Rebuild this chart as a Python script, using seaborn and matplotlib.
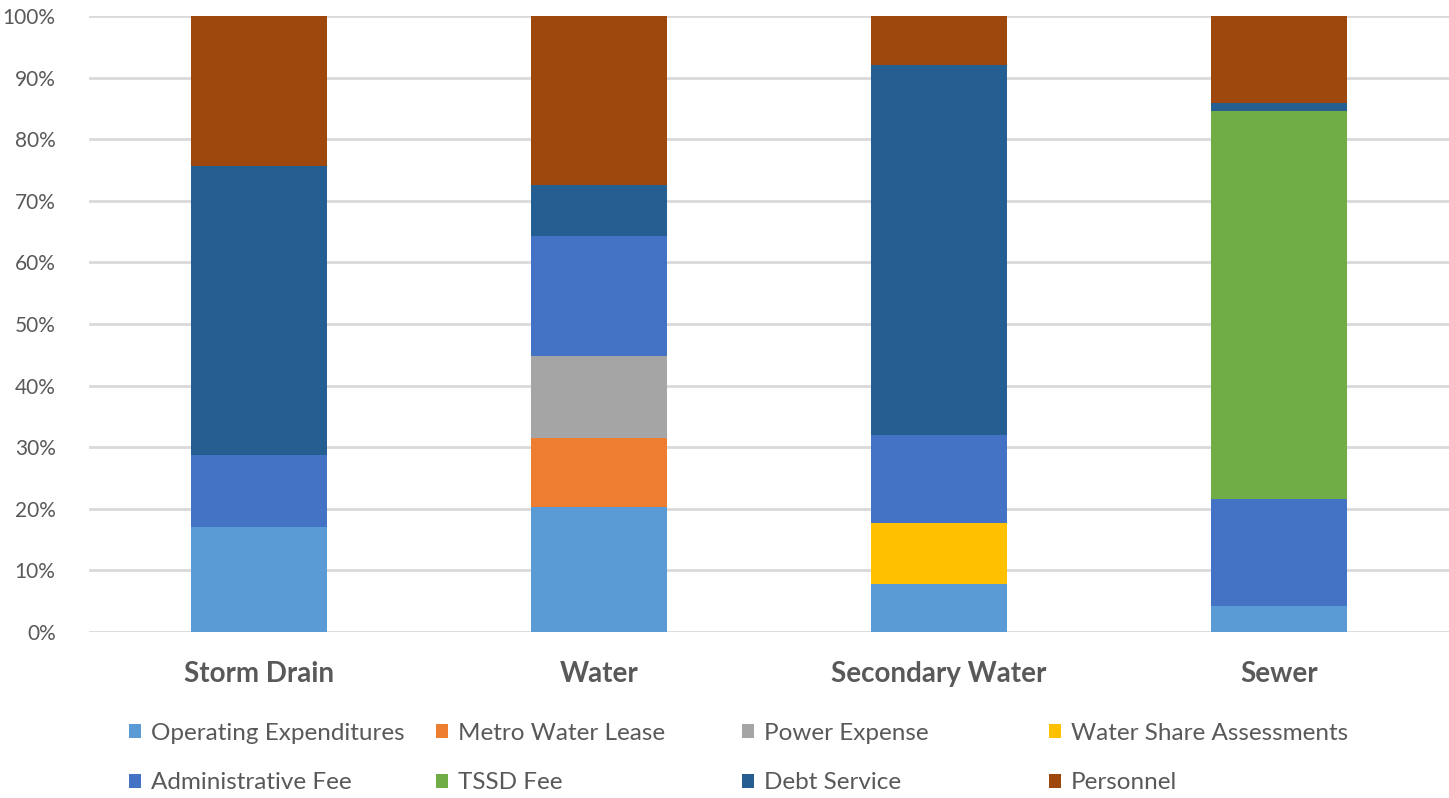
import pandas as pd
import numpy as np
import matplotlib
matplotlib.use("Agg")
import matplotlib.pyplot as plt
import seaborn as sns
from matplotlib.patches import Patch

# segment shares (%) per fund
funds = ["Storm Drain", "Water", "Secondary Water", "Sewer"]
operating = [17.0, 20.3, 7.8, 4.2]
metro_lease = [0.0, 11.2, 0.0, 0.0]
power = [0.0, 13.3, 0.0, 0.0]
water_share = [0.0, 0.0, 9.9, 0.0]
admin_fee = [11.7, 19.5, 14.2, 17.4]
tssd_fee = [0.0, 0.0, 0.0, 62.9]
debt = [46.9, 8.3, 60.2, 1.4]
personnel = [24.4, 27.4, 7.9, 14.1]

layers = ["Operating Expenditures", "Metro Water Lease", "Power Expense",
          "Water Share Assessments", "Administrative Fee", "TSSD Fee",
          "Debt Service", "Personnel"]
colors = ["#5B9BD5", "#ED7D31", "#A5A5A5", "#FFC000",
          "#4472C4", "#70AD47", "#255E91", "#9E480E"]

sns.set_theme(style="white")
plt.rcParams['font.family'] = ['Lato', 'DejaVu Sans']

df = pd.DataFrame({"fund": funds,
                   "Operating Expenditures": operating,
                   "Metro Water Lease": metro_lease,
                   "Power Expense": power,
                   "Water Share Assessments": water_share,
                   "Administrative Fee": admin_fee,
                   "TSSD Fee": tssd_fee,
                   "Debt Service": debt,
                   "Personnel": personnel})
cum = df[layers].cumsum(axis=1) / 100.0

fig = plt.figure(figsize=(14.49, 7.98), dpi=100)
ax = fig.add_axes([0.0614, 0.208, 0.9386, 0.772])

# gridlines under bars
for v in np.arange(0, 1.01, 0.1):
    ax.axhline(v, color="#D9D9D9", lw=2, zorder=0)

# draw cumulative totals from the top layer down
for name, col in zip(layers[::-1], colors[::-1]):
    sns.barplot(x=df["fund"], y=cum[name], color=col, width=0.4,
                saturation=1, ax=ax, zorder=2, linewidth=0)

ax.set_xlim(-0.5, 3.5)
ax.set_ylim(0, 1.0)
ax.set_yticks(np.arange(0, 1.01, 0.1))
ax.set_yticklabels([f"{int(round(v*100))}%" for v in np.arange(0, 1.01, 0.1)],
                   fontsize=15, color="#595959")
ax.set_xticks(range(len(funds)))
ax.set_xticklabels(funds, fontsize=20, fontweight="bold", color="#595959")
ax.tick_params(axis="y", length=0, pad=24)
ax.tick_params(axis="x", length=0, pad=21)
ax.set_xlabel("")
ax.set_ylabel("")
ax.grid(False)
for s in ax.spines.values():
    s.set_visible(False)

# legend: 4 equal-width columns of 2 entries each (like Excel)
col_x = [133, 440, 746, 1053]
for c in range(4):
    idx = [c, c + 4]
    handles = [Patch(facecolor=colors[i], edgecolor="none", label=layers[i]) for i in idx]
    leg = fig.legend(handles=handles, ncol=1, loc="upper left",
                     bbox_to_anchor=((col_x[c] - 4) / 1449, 1 - 723 / 798),
                     frameon=False, fontsize=17.5, borderpad=0, borderaxespad=0,
                     handlelength=0.5, handleheight=0.5,
                     handletextpad=0.4, labelspacing=1.17)
    for t in leg.get_texts():
        t.set_color("#595959")

fig.savefig("out.png", dpi=100)
